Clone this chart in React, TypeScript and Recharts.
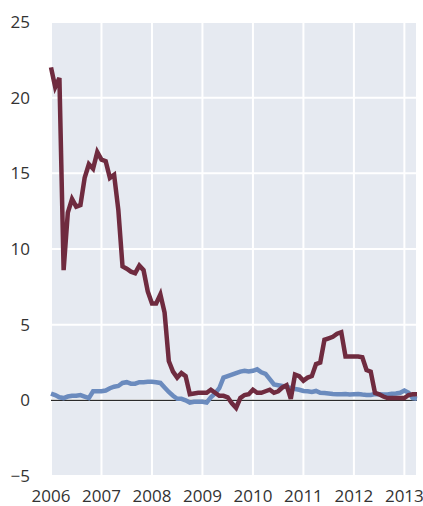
import React from 'react';
import { LineChart, Line, XAxis, YAxis, CartesianGrid, ReferenceLine } from 'recharts';

// monthly, Jan 2006 - Apr 2013
const startYear = 2006;
const yearTicks = [2006, 2007, 2008, 2009, 2010, 2011, 2012, 2013];
const valueTicks = [-5, 0, 5, 10, 15, 20, 25];

const maroon = [
  22.0, 20.7, 21.3, 8.6, 12.4, 13.3, 12.8, 12.9, 14.7, 15.6, 15.3, 16.4,
  15.9, 15.8, 14.7, 14.9, 12.6, 8.85, 8.7, 8.5, 8.4, 8.9, 8.6, 7.2,
  6.4, 6.4, 7.0, 5.8, 2.6, 1.9, 1.5, 1.8, 1.6, 0.4, 0.45, 0.5,
  0.5, 0.5, 0.7, 0.5, 0.3, 0.3, 0.2, -0.2, -0.5, 0.15, 0.35, 0.4,
  0.7, 0.5, 0.5, 0.6, 0.7, 0.5, 0.6, 0.85, 1.0, 0.1, 1.7, 1.6,
  1.3, 1.5, 1.6, 2.4, 2.5, 4.0, 4.1, 4.2, 4.4, 4.5, 2.9, 2.9,
  2.9, 2.9, 2.85, 2.0, 1.9, 0.5, 0.4, 0.25, 0.15, 0.15, 0.15, 0.15,
  0.15, 0.35, 0.4, 0.4,
];

const blue = [
  0.45, 0.35, 0.2, 0.15, 0.25, 0.3, 0.3, 0.35, 0.25, 0.15, 0.6, 0.6,
  0.6, 0.65, 0.8, 0.9, 0.95, 1.15, 1.2, 1.1, 1.1, 1.2, 1.2, 1.22,
  1.22, 1.2, 1.15, 0.85, 0.55, 0.3, 0.1, 0.1, 0.0, -0.15, -0.1, -0.1,
  -0.1, -0.15, 0.2, 0.45, 0.8, 1.5, 1.6, 1.7, 1.8, 1.9, 1.95, 1.9,
  1.95, 2.05, 1.85, 1.75, 1.4, 1.05, 1.0, 0.95, 0.9, 0.8, 0.75, 0.7,
  0.62, 0.6, 0.55, 0.62, 0.5, 0.48, 0.45, 0.42, 0.4, 0.4, 0.42, 0.38,
  0.4, 0.42, 0.38, 0.35, 0.35, 0.42, 0.4, 0.38, 0.38, 0.43, 0.45, 0.5,
  0.65, 0.5, 0.15, 0.1,
];

const data = maroon.map((v, i) => ({ t: startYear + i / 12, maroon: v, blue: blue[i] }));

const font = '"Open Sans", sans-serif';
const tickStyle = { fontSize: 17, fill: '#333', fontFamily: font };

const fmt = (v: number) => (v < 0 ? '\u2212' + Math.abs(v) : String(v));

export default function App() {
  return (
    <div style={{ position: 'absolute', left: 0, top: 0, width: 423, height: 506, overflow: 'hidden', background: '#fff' }}>
      {/* unit label sits above the frame, only its descender shows */}
      <div style={{ position: 'absolute', left: 30, top: -23, fontFamily: font, fontSize: 17, color: '#333', whiteSpace: 'nowrap' }}>
        Percentage
      </div>
      <LineChart width={423} height={506} data={data} margin={{ top: 22, right: 6, bottom: 0, left: 0 }}>
        <CartesianGrid fill="#E6EAF1" stroke="#fff" strokeWidth={2} />
        <XAxis
          dataKey="t"
          type="number"
          domain={[startYear, startYear + (maroon.length - 1) / 12]}
          ticks={yearTicks}
          axisLine={false}
          tickLine={false}
          tickSize={0}
          tickMargin={14}
          height={30}
          tick={tickStyle}
          interval={0}
        />
        <YAxis
          domain={[-5, 25]}
          ticks={valueTicks}
          axisLine={false}
          tickLine={false}
          tickSize={0}
          tickMargin={21}
          width={51}
          tick={tickStyle}
          tickFormatter={fmt}
          interval={0}
        />
        <ReferenceLine y={0} stroke="#000" strokeWidth={1} />
        <Line dataKey="blue" stroke="#6B8BBE" strokeWidth={4.5} dot={false} isAnimationActive={false} />
        <Line dataKey="maroon" stroke="#6F2B3F" strokeWidth={4.5} dot={false} isAnimationActive={false} />
      </LineChart>
    </div>
  );
}
